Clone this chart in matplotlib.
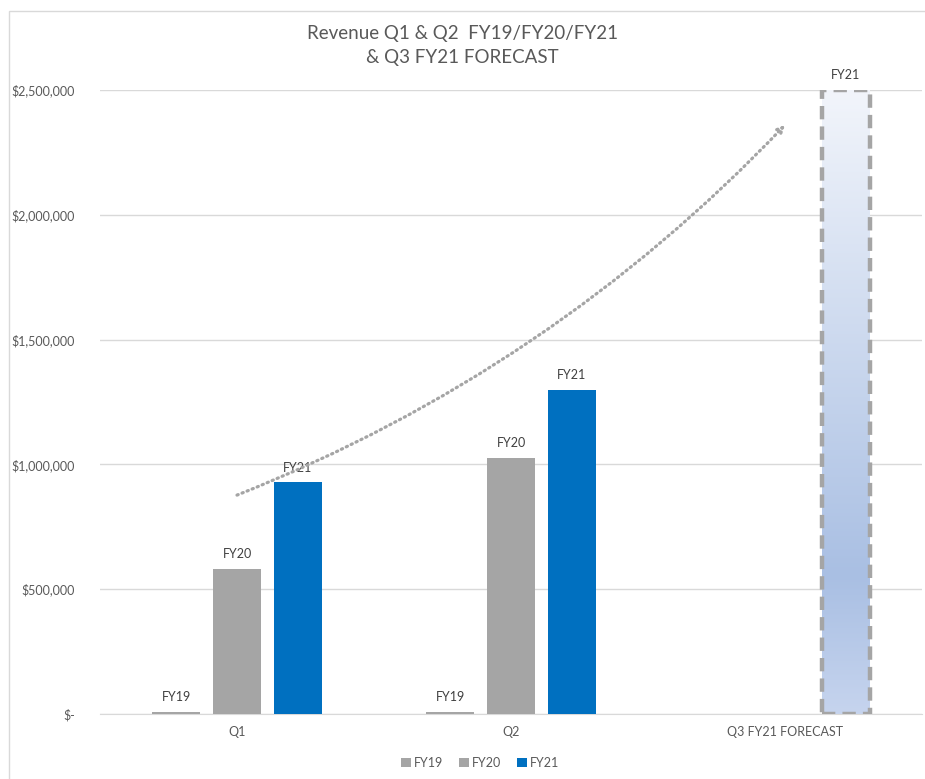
import matplotlib
matplotlib.use('Agg')
import matplotlib.pyplot as plt
from matplotlib.colors import LinearSegmentedColormap
from matplotlib.patches import Rectangle
import numpy as np

quarters = ['Q1', 'Q2', 'Q3 FY21 FORECAST']
fy19 = [10000, 10000]
fy20 = [580000, 1025000]
fy21 = [928000, 1300000]
forecast = 2500000
series_names = ['FY19', 'FY20', 'FY21']
colors = ['#a5a5a5', '#a5a5a5', '#0070c0']
yticks = [0, 500000, 1000000, 1500000, 2000000, 2500000]

plt.rcParams['font.family'] = ['Lato', 'DejaVu Sans']
txt = '#595959'

fig = plt.figure(figsize=(9.25, 7.79), dpi=100)
ax = fig.add_axes([100 / 925, 65 / 779, 822 / 925, 624 / 779])

# chart border
fig.patches.append(Rectangle((9 / 925, -0.1), 1.2, 1 - 11 / 779 + 0.1, transform=fig.transFigure,
                             fill=False, edgecolor='#d9d9d9', linewidth=1))

w = 0.175
step = 0.222
x = np.arange(2)
for i, (name, vals, c) in enumerate(zip(series_names, [fy19, fy20, fy21], colors)):
    bars = ax.bar(x + (i - 1) * step, vals, w, color=c, label=name, zorder=3)
    for b in bars:
        ax.text(b.get_x() + b.get_width() / 2, b.get_height() + 35000, name,
                ha='center', va='bottom', fontsize=9, color='#404040', zorder=4)

# forecast bar with gradient
fx = 2 + step
cmap = LinearSegmentedColormap.from_list('fc', [(0, '#f2f5fb'), (0.78, '#a9bfe3'), (1, '#c6d4ee')])
grad = np.linspace(0, 1, 256).reshape(-1, 1)
ax.imshow(grad, extent=[fx - w / 2, fx + w / 2, 0, forecast], origin='upper',
          cmap=cmap, aspect='auto', zorder=2)
ax.bar(fx, forecast, w, fill=False, edgecolor='#a5a5a5', linewidth=3.2,
       linestyle=(0, (3, 1.6)), zorder=3)
ax.text(fx, forecast + 35000, 'FY21', ha='center', va='bottom', fontsize=9, color='#404040')

# trend arrow (dotted)
ax.annotate('', xy=(2.0, 2360000), xytext=(0.0, 877000),
            arrowprops=dict(arrowstyle='->', color='#a5a5a5', lw=2.3, linestyle=(0, (0.4, 1.3)),
                            capstyle='round', connectionstyle='arc3,rad=0.11',
                            shrinkA=0, shrinkB=0), zorder=5)

ax.set_xlim(-0.5, 2.5)
ax.set_ylim(0, 2500000)
ax.set_xticks(range(3))
ax.set_xticklabels(quarters, fontsize=9, color=txt)
ax.set_yticks(yticks)
ax.set_yticklabels(['$-' if v == 0 else '${:,.0f}'.format(v) for v in yticks], fontsize=9, color=txt)
ax.tick_params(length=0, pad=18, axis='y')
ax.tick_params(length=0, pad=9, axis='x')
ax.grid(axis='y', color='#d9d9d9', linewidth=1, zorder=0)
ax.set_axisbelow(True)
for s in ['top', 'right', 'left']:
    ax.spines[s].set_visible(False)
ax.spines['bottom'].set_color('#d9d9d9')

fig.text(0.5, 1 - 33 / 779, 'Revenue Q1 & Q2  FY19/FY20/FY21', ha='center', va='center',
         fontsize=13.5, color=txt)
fig.text(0.5, 1 - 58 / 779, '& Q3 FY21 FORECAST', ha='center', va='center',
         fontsize=13.5, color=txt)

fig.legend(loc='center', bbox_to_anchor=(480 / 925, 1 - 763 / 779), ncol=3, frameon=False,
           fontsize=9, handlelength=0.8, handleheight=0.8, handletextpad=0.3,
           columnspacing=1.2, labelcolor=txt)

fig.savefig('out.png', dpi=100)
